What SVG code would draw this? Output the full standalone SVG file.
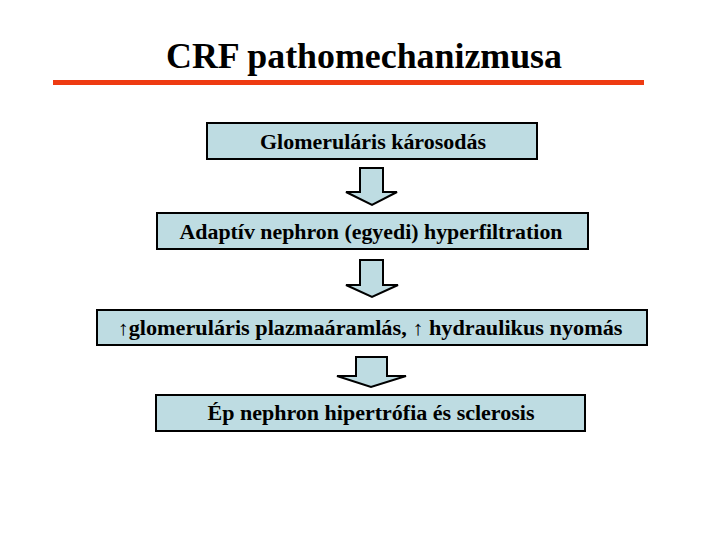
<svg xmlns="http://www.w3.org/2000/svg" width="720" height="540" viewBox="0 0 720 540">
<style>
.box{fill:#BEDCE2;stroke:#000;stroke-width:2}
.arr{fill:#BEDCE2;stroke:#000;stroke-width:2;stroke-linejoin:miter}
</style>
<rect width="720" height="540" fill="#fff"/>
<g id="title">
<text x="364" y="68" font-family="Liberation Serif" font-weight="bold" font-size="36" text-anchor="middle" textLength="396" lengthAdjust="spacingAndGlyphs">CRF pathomechanizmusa</text>
<rect x="53" y="80" width="591" height="5" fill="#EE3B12"/>
</g>
<g id="connectors">
<polygon class="arr" points="360,168 383,168 383,192 397,192 372,205 346,192 360,192"/>
<polygon class="arr" points="360,260 383,260 383,285 398,285 372,297 346,285 360,285"/>
<polygon class="arr" points="356,357 387,357 387,376 406,376 371,387 337,376 356,376"/>
</g>
<g id="n1">
<rect class="box" x="207" y="123" width="330" height="36"/>
<text x="373" y="149" font-family="Liberation Serif" font-weight="bold" font-size="20.5" text-anchor="middle" textLength="226" lengthAdjust="spacingAndGlyphs">Glomeruláris károsodás</text>
</g>
<g id="n2">
<rect class="box" x="157" y="213" width="431" height="36"/>
<text x="371" y="239" font-family="Liberation Serif" font-weight="bold" font-size="20.5" text-anchor="middle" textLength="383" lengthAdjust="spacingAndGlyphs">Adaptív nephron (egyedi) hyperfiltration</text>
</g>
<g id="n3">
<rect class="box" x="97" y="310" width="550" height="35"/>
<text x="370" y="335" font-family="Liberation Serif" font-weight="bold" font-size="20.5" text-anchor="middle" textLength="505" lengthAdjust="spacingAndGlyphs">↑glomeruláris plazmaáramlás, ↑ hydraulikus nyomás</text>
</g>
<g id="n4">
<rect class="box" x="156" y="395" width="429" height="36"/>
<text x="371" y="420" font-family="Liberation Serif" font-weight="bold" font-size="20.5" text-anchor="middle" textLength="327" lengthAdjust="spacingAndGlyphs">Ép nephron hipertrófia és sclerosis</text>
</g>
</svg>
